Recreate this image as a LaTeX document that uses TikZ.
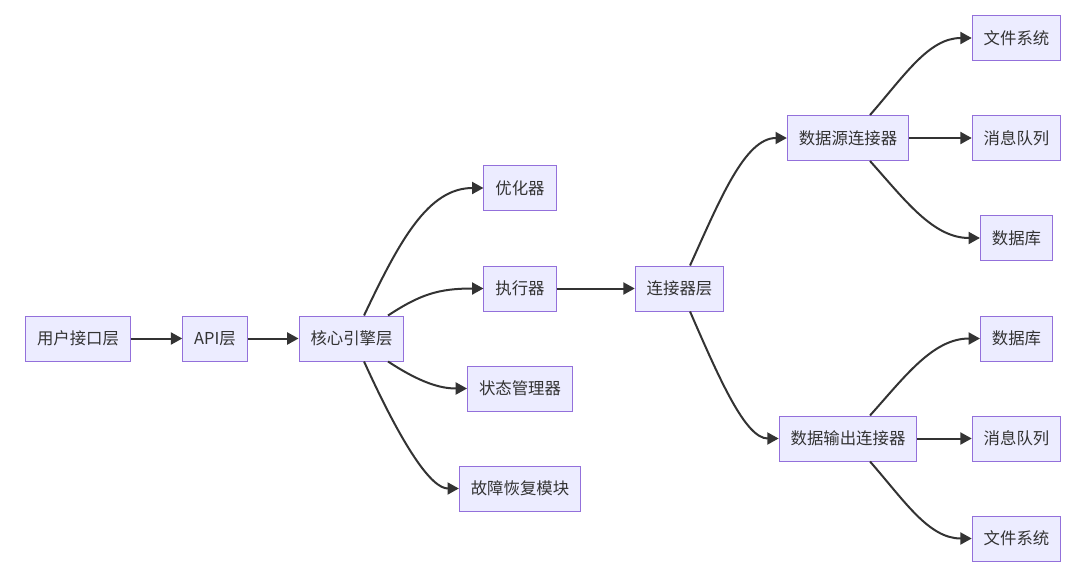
\documentclass[tikz,border=0pt]{standalone}
\usepackage{fontspec}
\setmainfont{Noto Sans CJK SC}
\usetikzlibrary{arrows.meta}
\definecolor{caixa}{HTML}{ECECFF}
\definecolor{borda}{HTML}{9370DB}
\definecolor{linha}{HTML}{333333}
\begin{document}
\begin{tikzpicture}[
  x=0.75pt, y=-0.75pt,
  every node/.style={draw=borda, fill=caixa, text=linha, line width=0.75pt,
    minimum height=33.75pt, inner xsep=8.6pt, font=\fontsize{12.3}{14}\selectfont}
]
\tikzset{
  seta/.style={draw=linha, line width=1.5pt, -{Triangle[length=8.5pt,width=9pt]}}
}
\useasboundingbox (0,0) rectangle (1076,575);
\node (ui) at (78,338.5) {用户接口层};
\node (api) at (215,338.5) {API层};
\node (core) at (351.5,338.5) {核心引擎层};
\node (opt) at (520,188) {优化器};
\node (exec) at (520,288.5) {执行器};
\node (state) at (520,388.5) {状态管理器};
\node (recovery) at (520,488.5) {故障恢复模块};
\node (conn) at (679.5,288.5) {连接器层};
\node (src) at (848,138) {数据源连接器};
\node (out) at (848,438.5) {数据输出连接器};
\node (srcfs) at (1016.5,38) {文件系统};
\node (srcmq) at (1016.5,138) {消息队列};
\node (srcdb) at (1016.5,238) {数据库};
\node (outdb) at (1016.5,338.5) {数据库};
\node (outmq) at (1016.5,438.5) {消息队列};
\node (outfs) at (1016.5,538.5) {文件系统};
\draw[seta] (ui) -- (api);
\draw[seta] (api) -- (core);
\draw[seta] ([xshift=9.4pt]core.north) .. controls +(36,-76) and +(-55,0) .. (opt.west);
\draw[seta] ([xshift=27.4pt]core.north) .. controls +(32,-21) and +(-45,0) .. (exec.west);
\draw[seta] ([xshift=27.4pt]core.south) .. controls +(32,21) and +(-27,0) .. (state.west);
\draw[seta] ([xshift=9.4pt]core.south) .. controls +(40,88) and +(-27,0) .. (recovery.west);
\draw[seta] (exec) -- (conn);
\draw[seta] ([xshift=7.9pt]conn.north) .. controls +(30,-66) and +(-42,0) .. (src.west);
\draw[seta] ([xshift=7.9pt]conn.south) .. controls +(30,69) and +(-33,0) .. (out.west);
\draw[seta] ([xshift=16.5pt]src.north) .. controls +(35,-40) and +(-43,0) .. (srcfs.west);
\draw[seta] (src) -- (srcmq);
\draw[seta] ([xshift=16.5pt]src.south) .. controls +(35,39) and +(-47,0) .. (srcdb.west);
\draw[seta] ([xshift=16.5pt]out.north) .. controls +(35,-39) and +(-47,0) .. (outdb.west);
\draw[seta] (out) -- (outmq);
\draw[seta] ([xshift=16.5pt]out.south) .. controls +(35,40) and +(-43,0) .. (outfs.west);
\end{tikzpicture}
\end{document}
